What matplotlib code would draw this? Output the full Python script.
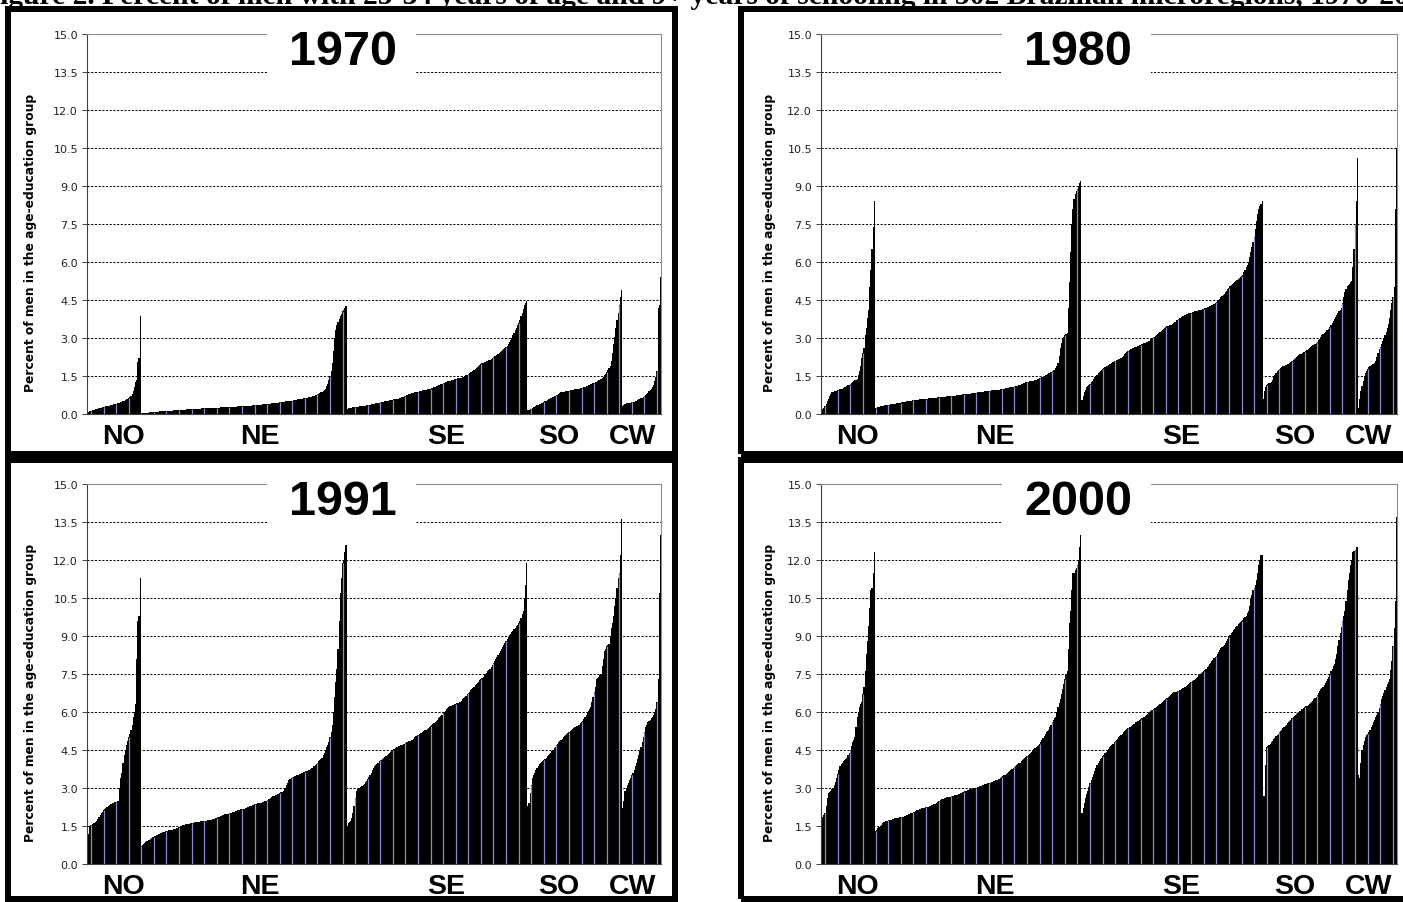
import numpy as np
import matplotlib
matplotlib.use('Agg')
import matplotlib.pyplot as plt
from matplotlib.patches import Rectangle

#---------------------------------------------
#data (sorted inside each region)
#---------------------------------------------
title = 'Figure 2. Percent of men with 25-34 years of age and 9+ years of schooling in 502 Brazilian microregions, 1970-2000'
ylabel = 'Percent of men in the age-education group'
years = ['1970', '1980', '1991', '2000']
regions = ['NO', 'NE', 'SE', 'SO', 'CW']
yticks = [0.0, 1.5, 3.0, 4.5, 6.0, 7.5, 9.0, 10.5, 12.0, 13.5, 15.0]

#1970
no_1970 = [0.05, 0.08, 0.1, 0.12, 0.14, 0.15, 0.17, 0.18, 0.2, 0.21,
	0.22, 0.23, 0.25, 0.26, 0.27, 0.28, 0.3, 0.31, 0.32, 0.33,
	0.34, 0.35, 0.37, 0.38, 0.39, 0.4, 0.42, 0.43, 0.45, 0.47,
	0.49, 0.51, 0.53, 0.55, 0.58, 0.6, 0.63, 0.67, 0.72, 0.8,
	0.9, 1.05, 1.25, 1.35, 2.05, 2.2, 3.85]
ne_1970 = [0.02, 0.03, 0.03, 0.04, 0.04, 0.05, 0.05, 0.06, 0.06, 0.07,
	0.07, 0.08, 0.08, 0.08, 0.09, 0.09, 0.1, 0.1, 0.1, 0.11,
	0.11, 0.11, 0.12, 0.12, 0.12, 0.13, 0.13, 0.13, 0.14, 0.14,
	0.14, 0.15, 0.15, 0.15, 0.16, 0.16, 0.16, 0.17, 0.17, 0.17,
	0.18, 0.18, 0.18, 0.19, 0.19, 0.19, 0.2, 0.2, 0.2, 0.2,
	0.21, 0.21, 0.21, 0.22, 0.22, 0.22, 0.22, 0.23, 0.23, 0.23,
	0.23, 0.24, 0.24, 0.24, 0.24, 0.25, 0.25, 0.25, 0.25, 0.26,
	0.26, 0.26, 0.26, 0.27, 0.27, 0.27, 0.27, 0.28, 0.28, 0.28,
	0.28, 0.29, 0.29, 0.29, 0.3, 0.3, 0.3, 0.3, 0.31, 0.31,
	0.31, 0.32, 0.32, 0.32, 0.33, 0.33, 0.33, 0.34, 0.34, 0.35,
	0.35, 0.35, 0.36, 0.36, 0.37, 0.37, 0.38, 0.38, 0.39, 0.39,
	0.4, 0.4, 0.41, 0.41, 0.42, 0.42, 0.43, 0.43, 0.44, 0.45,
	0.45, 0.46, 0.47, 0.47, 0.48, 0.49, 0.5, 0.5, 0.51, 0.52,
	0.52, 0.53, 0.53, 0.54, 0.55, 0.56, 0.57, 0.58, 0.59, 0.6,
	0.6, 0.61, 0.62, 0.63, 0.64, 0.65, 0.66, 0.67, 0.68, 0.69,
	0.7, 0.72, 0.74, 0.76, 0.78, 0.8, 0.82, 0.85, 0.88, 0.92,
	0.96, 1.0, 1.1, 1.2, 1.35, 1.5, 1.7, 2.0, 2.5, 3.0,
	3.3, 3.5, 3.65, 3.75, 3.85, 3.95, 4.05, 4.1, 4.2, 4.25]
se_1970 = [0.2, 0.22, 0.23, 0.24, 0.25, 0.26, 0.27, 0.28, 0.28, 0.29,
	0.29, 0.3, 0.3, 0.31, 0.31, 0.32, 0.33, 0.34, 0.35, 0.36,
	0.37, 0.38, 0.39, 0.4, 0.41, 0.42, 0.43, 0.44, 0.45, 0.46,
	0.47, 0.48, 0.49, 0.5, 0.51, 0.52, 0.53, 0.54, 0.55, 0.56,
	0.57, 0.58, 0.59, 0.6, 0.6, 0.61, 0.62, 0.64, 0.66, 0.68,
	0.7, 0.72, 0.74, 0.76, 0.78, 0.8, 0.81, 0.82, 0.84, 0.85,
	0.86, 0.87, 0.88, 0.9, 0.91, 0.92, 0.93, 0.94, 0.95, 0.96,
	0.97, 0.98, 0.99, 1.0, 1.02, 1.04, 1.06, 1.08, 1.1, 1.12,
	1.14, 1.16, 1.18, 1.2, 1.22, 1.24, 1.26, 1.28, 1.3, 1.31,
	1.32, 1.34, 1.35, 1.36, 1.38, 1.39, 1.4, 1.41, 1.42, 1.43,
	1.44, 1.46, 1.48, 1.5, 1.52, 1.55, 1.58, 1.61, 1.64, 1.67,
	1.7, 1.73, 1.76, 1.8, 1.84, 1.88, 1.92, 1.96, 2.0, 2.02,
	2.04, 2.06, 2.08, 2.1, 2.12, 2.15, 2.18, 2.21, 2.24, 2.27,
	2.3, 2.33, 2.36, 2.4, 2.44, 2.48, 2.52, 2.56, 2.6, 2.65,
	2.7, 2.78, 2.86, 2.94, 3.0, 3.1, 3.2, 3.3, 3.4, 3.5,
	3.6, 3.7, 3.85, 4.0, 4.15, 4.3, 4.4, 4.45]
so_1970 = [0.15, 0.17, 0.19, 0.2, 0.23, 0.26, 0.29, 0.32, 0.35, 0.37,
	0.39, 0.41, 0.43, 0.45, 0.48, 0.5, 0.53, 0.55, 0.58, 0.6,
	0.63, 0.65, 0.67, 0.7, 0.72, 0.74, 0.76, 0.79, 0.82, 0.85,
	0.86, 0.87, 0.88, 0.89, 0.9, 0.91, 0.92, 0.93, 0.94, 0.95,
	0.96, 0.97, 0.98, 0.99, 1.0, 1.0, 1.01, 1.02, 1.04, 1.06,
	1.08, 1.1, 1.12, 1.14, 1.16, 1.18, 1.2, 1.22, 1.24, 1.26,
	1.28, 1.3, 1.33, 1.36, 1.4, 1.44, 1.48, 1.52, 1.58, 1.65,
	1.72, 1.8, 1.9, 2.1, 2.4, 2.75, 3.05, 3.4, 3.7, 4.0,
	4.3, 4.6, 4.9]
cw_1970 = [0.3, 0.36, 0.4, 0.42, 0.43, 0.44, 0.45, 0.45, 0.46, 0.47,
	0.47, 0.5, 0.53, 0.56, 0.58, 0.6, 0.62, 0.65, 0.67, 0.7,
	0.74, 0.78, 0.84, 0.9, 0.95, 1.0, 1.08, 1.16, 1.3, 1.45,
	1.7, 4.2, 4.3, 5.4]

#1980
no_1980 = [0.15, 0.2, 0.25, 0.3, 0.4, 0.5, 0.6, 0.7, 0.8, 0.85,
	0.88, 0.9, 0.9, 0.92, 0.94, 0.96, 0.97, 0.98, 1.0, 1.02,
	1.05, 1.08, 1.1, 1.13, 1.16, 1.2, 1.23, 1.26, 1.3, 1.33,
	1.36, 1.4, 1.55, 1.7, 1.9, 2.2, 2.4, 2.6, 3.1, 3.4,
	3.8, 4.1, 5.0, 5.7, 6.5, 7.4, 8.4]
ne_1980 = [0.22, 0.25, 0.27, 0.29, 0.3, 0.31, 0.32, 0.33, 0.34, 0.35,
	0.36, 0.37, 0.37, 0.38, 0.39, 0.4, 0.4, 0.41, 0.42, 0.43,
	0.43, 0.44, 0.45, 0.46, 0.47, 0.48, 0.49, 0.5, 0.51, 0.52,
	0.53, 0.53, 0.54, 0.55, 0.55, 0.56, 0.57, 0.57, 0.58, 0.58,
	0.59, 0.59, 0.6, 0.6, 0.6, 0.61, 0.62, 0.62, 0.63, 0.63,
	0.64, 0.64, 0.65, 0.65, 0.66, 0.66, 0.67, 0.67, 0.68, 0.68,
	0.69, 0.69, 0.7, 0.7, 0.7, 0.71, 0.71, 0.72, 0.72, 0.73,
	0.73, 0.74, 0.74, 0.75, 0.75, 0.76, 0.77, 0.77, 0.78, 0.78,
	0.79, 0.79, 0.8, 0.8, 0.81, 0.82, 0.82, 0.83, 0.84, 0.85,
	0.85, 0.86, 0.87, 0.88, 0.88, 0.89, 0.9, 0.91, 0.91, 0.92,
	0.92, 0.93, 0.93, 0.94, 0.94, 0.95, 0.95, 0.96, 0.96, 0.97,
	0.98, 0.99, 1.0, 1.01, 1.02, 1.03, 1.04, 1.05, 1.06, 1.07,
	1.08, 1.09, 1.1, 1.11, 1.12, 1.14, 1.16, 1.18, 1.2, 1.22,
	1.24, 1.26, 1.27, 1.28, 1.29, 1.3, 1.3, 1.31, 1.32, 1.33,
	1.35, 1.37, 1.39, 1.41, 1.43, 1.45, 1.47, 1.5, 1.52, 1.55,
	1.58, 1.6, 1.63, 1.66, 1.7, 1.72, 1.75, 1.8, 1.9, 2.0,
	2.3, 2.6, 2.8, 3.0, 3.05, 3.1, 3.15, 3.2, 4.2, 5.2,
	6.4, 7.5, 8.1, 8.5, 8.7, 8.8, 8.9, 9.0, 9.1, 9.2]
se_1980 = [0.55, 0.7, 0.85, 0.95, 1.05, 1.1, 1.15, 1.2, 1.25, 1.3,
	1.38, 1.45, 1.5, 1.55, 1.6, 1.65, 1.7, 1.74, 1.78, 1.82,
	1.85, 1.88, 1.9, 1.93, 1.96, 1.99, 2.02, 2.05, 2.08, 2.1,
	2.12, 2.14, 2.16, 2.17, 2.2, 2.25, 2.3, 2.35, 2.4, 2.45,
	2.5, 2.53, 2.56, 2.58, 2.6, 2.62, 2.64, 2.66, 2.68, 2.7,
	2.72, 2.74, 2.76, 2.78, 2.8, 2.82, 2.84, 2.86, 2.88, 2.9,
	2.95, 3.0, 3.02, 3.04, 3.08, 3.12, 3.16, 3.2, 3.24, 3.28,
	3.32, 3.36, 3.4, 3.43, 3.46, 3.48, 3.5, 3.5, 3.52, 3.55,
	3.6, 3.65, 3.7, 3.72, 3.75, 3.78, 3.8, 3.84, 3.87, 3.9,
	3.92, 3.94, 3.96, 3.97, 3.98, 4.0, 4.01, 4.03, 4.05, 4.06,
	4.07, 4.08, 4.09, 4.1, 4.12, 4.14, 4.16, 4.18, 4.2, 4.22,
	4.24, 4.26, 4.28, 4.3, 4.32, 4.35, 4.38, 4.42, 4.46, 4.5,
	4.55, 4.6, 4.65, 4.7, 4.75, 4.8, 4.86, 4.92, 4.98, 5.04,
	5.1, 5.14, 5.18, 5.22, 5.26, 5.3, 5.34, 5.38, 5.42, 5.46,
	5.5, 5.6, 5.7, 5.8, 5.9, 6.0, 6.2, 6.4, 6.6, 6.8,
	7.0, 7.3, 7.6, 7.9, 8.1, 8.2, 8.3, 8.4]
so_1980 = [0.6, 0.9, 1.05, 1.15, 1.2, 1.22, 1.24, 1.26, 1.35, 1.45,
	1.55, 1.62, 1.68, 1.74, 1.78, 1.82, 1.85, 1.88, 1.9, 1.92,
	1.94, 1.96, 1.98, 2.02, 2.06, 2.1, 2.14, 2.18, 2.22, 2.26,
	2.3, 2.33, 2.35, 2.37, 2.4, 2.43, 2.46, 2.5, 2.54, 2.58,
	2.62, 2.66, 2.7, 2.72, 2.73, 2.76, 2.8, 2.86, 2.92, 2.98,
	3.04, 3.1, 3.16, 3.2, 3.25, 3.3, 3.33, 3.36, 3.42, 3.5,
	3.6, 3.68, 3.75, 3.82, 3.9, 3.98, 4.05, 4.12, 4.2, 4.4,
	4.6, 4.8, 4.95, 5.05, 5.1, 5.15, 5.2, 5.25, 5.8, 6.5,
	7.5, 8.4, 10.1]
cw_1980 = [0.25, 0.6, 0.9, 1.1, 1.3, 1.5, 1.62, 1.7, 1.78, 1.86,
	1.9, 1.93, 1.96, 1.98, 2.0, 2.1, 2.25, 2.4, 2.55, 2.65,
	2.77, 2.9, 3.0, 3.1, 3.25, 3.4, 3.55, 3.8, 4.1, 4.4,
	4.6, 5.0, 8.1, 10.5]

#1991
no_1991 = [0.6, 1.2, 1.5, 1.55, 1.58, 1.6, 1.62, 1.65, 1.7, 1.78,
	1.85, 1.92, 2.0, 2.06, 2.12, 2.18, 2.22, 2.26, 2.3, 2.33,
	2.36, 2.38, 2.4, 2.42, 2.44, 2.46, 2.48, 2.5, 3.0, 3.4,
	3.6, 4.0, 4.3, 4.5, 4.7, 4.85, 5.0, 5.15, 5.3, 5.5,
	5.8, 6.0, 6.3, 8.1, 9.6, 9.8, 11.3]
ne_1991 = [0.7, 0.75, 0.8, 0.84, 0.88, 0.9, 0.93, 0.96, 0.99, 1.02,
	1.05, 1.08, 1.1, 1.13, 1.15, 1.18, 1.2, 1.22, 1.24, 1.26,
	1.28, 1.3, 1.31, 1.32, 1.33, 1.34, 1.35, 1.36, 1.38, 1.39,
	1.4, 1.42, 1.44, 1.46, 1.48, 1.5, 1.52, 1.54, 1.55, 1.56,
	1.57, 1.58, 1.59, 1.6, 1.61, 1.62, 1.63, 1.64, 1.65, 1.66,
	1.66, 1.67, 1.68, 1.69, 1.69, 1.7, 1.7, 1.71, 1.72, 1.73,
	1.74, 1.75, 1.76, 1.77, 1.78, 1.8, 1.82, 1.84, 1.86, 1.88,
	1.9, 1.92, 1.94, 1.96, 1.97, 1.98, 1.99, 2.0, 2.0, 2.02,
	2.04, 2.06, 2.08, 2.1, 2.12, 2.14, 2.15, 2.16, 2.17, 2.18,
	2.19, 2.2, 2.22, 2.24, 2.26, 2.28, 2.3, 2.32, 2.34, 2.36,
	2.37, 2.38, 2.39, 2.4, 2.4, 2.42, 2.44, 2.46, 2.48, 2.5,
	2.52, 2.55, 2.58, 2.61, 2.64, 2.67, 2.7, 2.72, 2.74, 2.76,
	2.78, 2.8, 2.83, 2.86, 2.9, 2.95, 3.0, 3.1, 3.2, 3.3,
	3.35, 3.4, 3.42, 3.44, 3.46, 3.48, 3.5, 3.52, 3.54, 3.56,
	3.58, 3.6, 3.62, 3.64, 3.66, 3.68, 3.7, 3.72, 3.75, 3.78,
	3.8, 3.85, 3.9, 3.95, 4.0, 4.05, 4.1, 4.15, 4.2, 4.3,
	4.4, 4.5, 4.6, 4.7, 4.8, 5.0, 5.2, 5.5, 6.0, 6.6,
	7.2, 7.7, 8.5, 9.6, 10.7, 11.3, 11.9, 12.0, 12.3, 12.6]
se_1991 = [1.5, 1.6, 1.65, 1.7, 1.8, 2.0, 2.3, 2.6, 2.9, 2.95,
	3.0, 3.0, 3.02, 3.06, 3.1, 3.16, 3.22, 3.28, 3.35, 3.42,
	3.5, 3.6, 3.7, 3.8, 3.85, 3.9, 3.95, 4.0, 4.05, 4.1,
	4.12, 4.16, 4.2, 4.24, 4.28, 4.32, 4.36, 4.4, 4.43, 4.46,
	4.49, 4.52, 4.56, 4.6, 4.62, 4.64, 4.66, 4.68, 4.7, 4.72,
	4.75, 4.78, 4.8, 4.82, 4.84, 4.86, 4.88, 4.9, 4.95, 5.0,
	5.04, 5.07, 5.1, 5.13, 5.16, 5.19, 5.22, 5.25, 5.28, 5.3,
	5.34, 5.38, 5.42, 5.46, 5.5, 5.53, 5.56, 5.6, 5.65, 5.7,
	5.75, 5.8, 5.85, 5.9, 5.95, 6.0, 6.05, 6.1, 6.15, 6.2,
	6.22, 6.24, 6.26, 6.28, 6.3, 6.32, 6.34, 6.36, 6.38, 6.4,
	6.45, 6.5, 6.55, 6.6, 6.65, 6.7, 6.75, 6.8, 6.85, 6.9,
	6.95, 7.0, 7.05, 7.1, 7.15, 7.2, 7.25, 7.3, 7.35, 7.4,
	7.45, 7.5, 7.55, 7.6, 7.65, 7.7, 7.78, 7.86, 7.94, 8.02,
	8.1, 8.18, 8.26, 8.34, 8.42, 8.5, 8.58, 8.66, 8.74, 8.82,
	8.9, 8.96, 9.02, 9.08, 9.14, 9.2, 9.26, 9.32, 9.38, 9.44,
	9.5, 9.6, 9.7, 9.85, 10.0, 10.5, 11.0, 11.9]
so_1991 = [2.3, 2.4, 2.8, 3.1, 3.4, 3.5, 3.6, 3.7, 3.78, 3.86,
	3.93, 4.0, 4.04, 4.08, 4.12, 4.16, 4.2, 4.25, 4.3, 4.35,
	4.4, 4.45, 4.5, 4.56, 4.62, 4.68, 4.74, 4.8, 4.85, 4.9,
	4.95, 5.0, 5.04, 5.08, 5.12, 5.16, 5.2, 5.25, 5.3, 5.33,
	5.36, 5.39, 5.42, 5.45, 5.48, 5.5, 5.55, 5.6, 5.66, 5.72,
	5.8, 5.9, 5.96, 6.02, 6.1, 6.2, 6.4, 6.6, 6.8, 7.0,
	7.3, 7.35, 7.4, 7.45, 7.5, 7.8, 8.1, 8.4, 8.5, 8.6,
	8.65, 8.7, 9.0, 9.3, 9.5, 9.8, 10.2, 10.5, 10.9, 11.3,
	11.5, 12.2, 13.6]
cw_1991 = [2.2, 2.5, 2.9, 3.0, 3.1, 3.2, 3.3, 3.4, 3.5, 3.6,
	3.7, 3.85, 4.0, 4.15, 4.3, 4.45, 4.6, 4.8, 5.0, 5.2,
	5.4, 5.5, 5.6, 5.65, 5.7, 5.75, 5.8, 5.9, 6.0, 6.1,
	6.4, 7.3, 10.7, 13.0]

#2000
no_2000 = [1.8, 1.85, 1.95, 2.0, 2.3, 2.6, 2.8, 2.85, 2.9, 2.95,
	3.0, 3.1, 3.25, 3.4, 3.55, 3.7, 3.85, 3.95, 4.0, 4.05,
	4.1, 4.15, 4.2, 4.3, 4.4, 4.5, 4.65, 4.8, 4.9, 5.0,
	5.4, 5.8, 6.0, 6.2, 6.3, 6.4, 6.7, 7.0, 7.6, 8.3,
	8.8, 9.4, 10.1, 10.8, 10.9, 11.5, 12.3]
ne_2000 = [1.3, 1.36, 1.42, 1.46, 1.5, 1.55, 1.6, 1.64, 1.67, 1.7,
	1.71, 1.72, 1.73, 1.74, 1.75, 1.76, 1.78, 1.8, 1.81, 1.82,
	1.83, 1.84, 1.85, 1.86, 1.87, 1.88, 1.9, 1.92, 1.94, 1.96,
	1.98, 2.0, 2.02, 2.04, 2.06, 2.1, 2.12, 2.14, 2.16, 2.18,
	2.2, 2.21, 2.22, 2.23, 2.24, 2.25, 2.26, 2.28, 2.3, 2.32,
	2.34, 2.36, 2.38, 2.41, 2.44, 2.47, 2.5, 2.53, 2.56, 2.58,
	2.6, 2.62, 2.63, 2.64, 2.65, 2.66, 2.67, 2.68, 2.7, 2.71,
	2.72, 2.74, 2.76, 2.78, 2.8, 2.82, 2.84, 2.86, 2.88, 2.9,
	2.92, 2.94, 2.96, 2.97, 2.98, 2.99, 3.0, 3.0, 3.01, 3.02,
	3.04, 3.06, 3.08, 3.1, 3.12, 3.14, 3.16, 3.17, 3.18, 3.19,
	3.2, 3.22, 3.24, 3.26, 3.28, 3.3, 3.32, 3.35, 3.37, 3.4,
	3.43, 3.46, 3.5, 3.53, 3.56, 3.6, 3.63, 3.66, 3.7, 3.74,
	3.78, 3.82, 3.86, 3.9, 3.95, 3.98, 4.0, 4.05, 4.1, 4.15,
	4.2, 4.24, 4.28, 4.32, 4.36, 4.4, 4.44, 4.48, 4.52, 4.56,
	4.6, 4.65, 4.7, 4.75, 4.8, 4.88, 4.96, 5.04, 5.12, 5.2,
	5.25, 5.3, 5.4, 5.5, 5.6, 5.7, 5.75, 5.8, 6.0, 6.2,
	6.35, 6.5, 6.7, 6.9, 7.1, 7.3, 7.5, 7.6, 8.5, 9.5,
	10.0, 10.8, 11.5, 11.5, 11.6, 11.7, 11.8, 12.0, 12.5, 13.0]
se_2000 = [2.0, 2.2, 2.4, 2.6, 2.75, 2.9, 3.05, 3.2, 3.3, 3.42,
	3.54, 3.66, 3.78, 3.9, 3.98, 4.06, 4.14, 4.2, 4.26, 4.32,
	4.38, 4.44, 4.5, 4.55, 4.6, 4.65, 4.7, 4.75, 4.8, 4.85,
	4.9, 4.95, 5.0, 5.05, 5.1, 5.15, 5.2, 5.25, 5.3, 5.33,
	5.36, 5.39, 5.42, 5.45, 5.48, 5.51, 5.54, 5.6, 5.63, 5.66,
	5.69, 5.72, 5.75, 5.78, 5.82, 5.86, 5.9, 5.93, 5.96, 6.0,
	6.03, 6.06, 6.1, 6.14, 6.17, 6.2, 6.24, 6.28, 6.32, 6.36,
	6.4, 6.44, 6.47, 6.5, 6.54, 6.58, 6.62, 6.66, 6.7, 6.74,
	6.77, 6.8, 6.8, 6.82, 6.84, 6.86, 6.88, 6.9, 6.94, 6.97,
	7.0, 7.03, 7.06, 7.1, 7.14, 7.18, 7.22, 7.26, 7.28, 7.3,
	7.35, 7.4, 7.45, 7.5, 7.54, 7.58, 7.62, 7.66, 7.7, 7.76,
	7.82, 7.88, 7.94, 8.0, 8.06, 8.12, 8.18, 8.22, 8.3, 8.38,
	8.45, 8.52, 8.58, 8.6, 8.65, 8.72, 8.8, 8.88, 8.96, 9.04,
	9.1, 9.16, 9.22, 9.28, 9.34, 9.4, 9.46, 9.5, 9.55, 9.6,
	9.65, 9.7, 9.75, 9.8, 9.9, 10.0, 10.2, 10.5, 10.6, 10.8,
	10.9, 11.0, 11.2, 11.5, 11.8, 12.0, 12.2, 12.2]
so_2000 = [2.7, 2.7, 3.9, 4.6, 4.65, 4.7, 4.75, 4.8, 4.86, 4.92,
	4.98, 5.04, 5.1, 5.15, 5.2, 5.25, 5.3, 5.35, 5.4, 5.45,
	5.5, 5.55, 5.6, 5.65, 5.7, 5.75, 5.8, 5.84, 5.88, 5.92,
	5.96, 6.0, 6.05, 6.1, 6.13, 6.16, 6.19, 6.22, 6.25, 6.28,
	6.3, 6.35, 6.4, 6.45, 6.5, 6.55, 6.6, 6.68, 6.76, 6.84,
	6.92, 6.96, 7.0, 7.08, 7.16, 7.24, 7.32, 7.4, 7.5, 7.6,
	7.7, 7.8, 7.9, 8.1, 8.3, 8.6, 8.85, 9.1, 9.35, 9.6,
	9.8, 10.0, 10.4, 10.8, 11.2, 11.5, 11.8, 12.0, 12.3, 12.35,
	12.4, 12.5, 12.5]
cw_2000 = [3.5, 3.4, 4.0, 4.5, 4.7, 4.85, 5.0, 5.08, 5.15, 5.23,
	5.3, 5.4, 5.5, 5.6, 5.7, 5.8, 5.9, 6.0, 6.15, 6.3,
	6.5, 6.62, 6.75, 6.87, 7.0, 7.1, 7.2, 7.3, 7.65, 8.0,
	8.6, 9.3, 10.4, 13.7]

panel_data = [
	[no_1970, ne_1970, se_1970, so_1970, cw_1970],
	[no_1980, ne_1980, se_1980, so_1980, cw_1980],
	[no_1991, ne_1991, se_1991, so_1991, cw_1991],
	[no_2000, ne_2000, se_2000, so_2000, cw_2000]]

#---------------------------------------------
#layout (pixels of the 1403x903 picture)
#---------------------------------------------
W = 1403
H = 903
#axes: left, top, width, height
axes_px = [(87, 35, 574, 380), (821, 35, 576, 380), (87, 485, 574, 380), (821, 485, 576, 380)]
ylabel_x = [-0.087, -0.078, -0.087, -0.078]
#thick black frames round each panel: x0, y0, x1, y1
frames_px = [(8, 10, 675, 455), (741, 10, 1412, 455), (8, 460.5, 675, 900), (741, 460.5, 1412, 900)]
region_xfrac = [0.063, 0.301, 0.626, 0.822, 0.950]

fig = plt.figure(figsize=(W/100.0, H/100.0), dpi=100)
fig.patch.set_facecolor('white')

#title runs past both edges of the picture, as in the scan
fig.text(-18.0/W, 1 - 4.5/H, title, ha='left', va='baseline', fontsize=21.3,
	fontweight='bold', family='Liberation Serif', color='black')

for k in range(4):
	l, t, w, h = axes_px[k]
	ax = fig.add_axes([l/float(W), 1 - (t + h)/float(H), w/float(W), h/float(H)])

	vals = np.concatenate([np.array(v) for v in panel_data[k]])
	x = np.arange(len(vals))
	ax.bar(x, vals, width=1.0, color='black', linewidth=0, antialiased=False, zorder=2)
	#the light streaks that run through the black bars
	ax.vlines(x[3::11], 0, vals[3::11], color='#8a8ad0', lw=0.9, zorder=2.1)

	ax.set_xlim(-0.5, len(vals) - 0.5)
	ax.set_ylim(0, 15)
	ax.set_yticks(yticks)
	ax.set_yticklabels(['%.1f' % v for v in yticks])
	ax.set_xticks([])

	ax.set_axisbelow(True)
	ax.yaxis.grid(True, linestyle=(0, (2.2, 1.6)), color='black', lw=0.7)
	gl = ax.get_ygridlines()
	gl[0].set_visible(False)
	gl[-1].set_visible(False)

	for s in ['left', 'bottom']:
		ax.spines[s].set_color('#404040')
		ax.spines[s].set_linewidth(0.8)
	for s in ['top', 'right']:
		ax.spines[s].set_color('#8c8c8c')
		ax.spines[s].set_linewidth(0.8)

	ax.tick_params(axis='y', direction='out', length=3.5, width=0.7, color='#404040',
		labelsize=8, labelcolor='#222222', pad=3)
	for lab in ax.get_yticklabels():
		lab.set_family('DejaVu Sans')

	ax.set_ylabel(ylabel, fontsize=8.8, fontweight='bold', family='DejaVu Sans')
	ax.yaxis.set_label_coords(ylabel_x[k], 0.453)

	#year label sitting in a white box over the top border
	ax.add_patch(Rectangle((0.3136, 0.8816), 0.2596, 0.145, transform=ax.transAxes,
		facecolor='white', edgecolor='none', clip_on=False, zorder=3))
	ax.text(0.446, 0.953, years[k], transform=ax.transAxes, ha='center', va='center',
		fontsize=35, fontweight='bold', family='Liberation Sans', zorder=4)

	for r in range(len(regions)):
		ax.text(region_xfrac[r], -0.058, regions[r], transform=ax.transAxes, ha='center',
			va='center', fontsize=20.5, fontweight='bold', family='Liberation Sans')

for (x0, y0, x1, y1) in frames_px:
	fig.add_artist(Rectangle((x0/float(W), 1 - y1/float(H)), (x1 - x0)/float(W), (y1 - y0)/float(H),
		transform=fig.transFigure, fill=False, edgecolor='black', lw=6*0.72,
		joinstyle='miter', zorder=5))

fig.savefig('out.png', dpi=100)
